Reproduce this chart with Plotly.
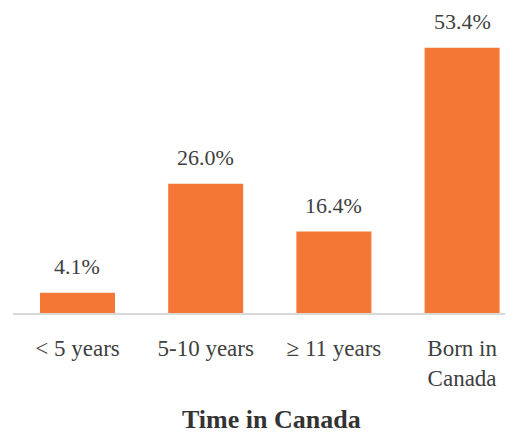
import plotly.graph_objects as go

categories = ["< 5 years", "5-10 years", "≥ 11 years", "Born in<br>Canada"]
values = [4.1, 26.0, 16.4, 53.4]
labels = ["4.1%", "26.0%", "16.4%", "53.4%"]
axis_title = "Time in Canada"

FONT = "Liberation Serif, Times New Roman, DejaVu Serif, serif"
BAR = "#F47735"
TXT = "#404040"

fig = go.Figure()
fig.add_trace(go.Bar(
    x=categories, y=values,
    marker=dict(color=BAR, line=dict(width=0)),
    hoverinfo="skip",
))

for c, v, t in zip(categories, values, labels):
    fig.add_annotation(
        x=c, y=v, text=t, showarrow=False, yanchor="bottom", yshift=12,
        font=dict(family=FONT, size=22, color=TXT),
    )

fig.add_annotation(
    xref="paper", yref="paper", x=0.516, y=0, yshift=-106, yanchor="middle",
    text="<b>" + axis_title + "</b>", showarrow=False,
    font=dict(family=FONT, size=26, color="#333333"),
)

fig.update_layout(
    width=505, height=425,
    margin=dict(l=5, r=0, t=7, b=120),
    paper_bgcolor="white", plot_bgcolor="white",
    bargap=0.415,
    showlegend=False,
    font=dict(family=FONT),
    xaxis=dict(
        type="category",
        range=[-0.503, 3.397],
        showline=True, linecolor="#D9D9D9", linewidth=2,
        showgrid=False, ticks="",
        tickfont=dict(family=FONT, size=23, color=TXT),
        ticklabelstandoff=13,
    ),
    yaxis=dict(
        range=[0, 60], visible=False, showgrid=False, zeroline=False,
    ),
)

fig.write_html("out.html")
